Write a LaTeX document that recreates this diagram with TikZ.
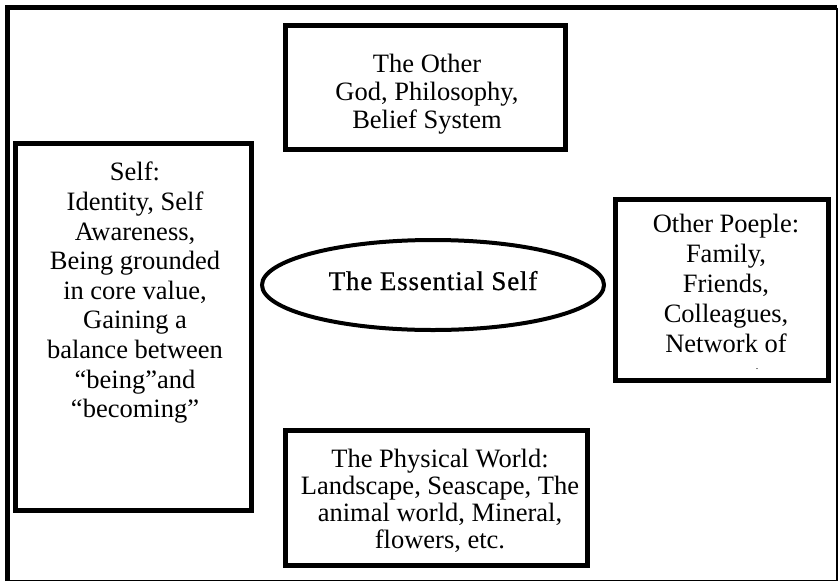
\documentclass[tikz,border=0pt]{standalone}
\usepackage{fontspec}
\setmainfont{Liberation Serif}
\usetikzlibrary{shapes.geometric}
\begin{document}
\begin{tikzpicture}[x=1pt,y=-1pt,
  box/.style={draw, line width=5pt, inner sep=0pt},
  txt/.style={align=center, inner sep=0pt, anchor=north},
  body/.style={font=\fontsize{26.5}{#1}\selectfont},
]
\useasboundingbox (0,0) rectangle (838,582);
\fill[white] (0,0) rectangle (838,582);
% page frame: heavy top and left edges, hairline right and bottom
\draw[line width=5pt] (7.5,581) -- (7.5,7.5) -- (837,7.5);
\draw[line width=1.2pt] (837,7.5) -- (837,580.5) -- (7.5,580.5);

% the five areas
\node[box, minimum width=279.5pt, minimum height=124pt] (other) at (425.5,87) {};
\node[box, minimum width=236pt, minimum height=367pt] (self) at (133,326.5) {};
\node[box, minimum width=213pt, minimum height=180.5pt] (people) at (722,290) {};
\node[box, minimum width=302pt, minimum height=134.5pt] (world) at (436.5,498) {};
\node[draw, ellipse, line width=4pt, minimum width=342pt, minimum height=90pt, inner sep=0pt] (core) at (433,285) {};

% texts
\node[txt, body=28] (othertxt) at (427,54) {The Other\\God, Philosophy,\\Belief System};
\node[txt, body=29.6] (selftxt) at (135,162) {Self:\\ Identity, Self\\Awareness,\\Being grounded\\in core value,\\Gaining a\\balance between\\“being”and\\“becoming”};
\node[txt, body=30] (peopletxt) at (726,214) {Other Poeple:\\Family,\\Friends,\\Colleagues,\\Network of};
\node[font=\fontsize{10}{10}\selectfont, inner sep=0pt] (peopledot) at (757,369) {.};
\node[txt, body=27] (worldtxt) at (440,449) {The Physical World:\\Landscape, Seascape, The\\animal world, Mineral,\\flowers, etc.};
\node[inner sep=0pt, anchor=base, font=\fontsize{27}{30}\selectfont\addfontfeatures{LetterSpace=3,FakeBold=0.6}] (coretxt) at (433,290) {The Essential Self};
\end{tikzpicture}
\end{document}
